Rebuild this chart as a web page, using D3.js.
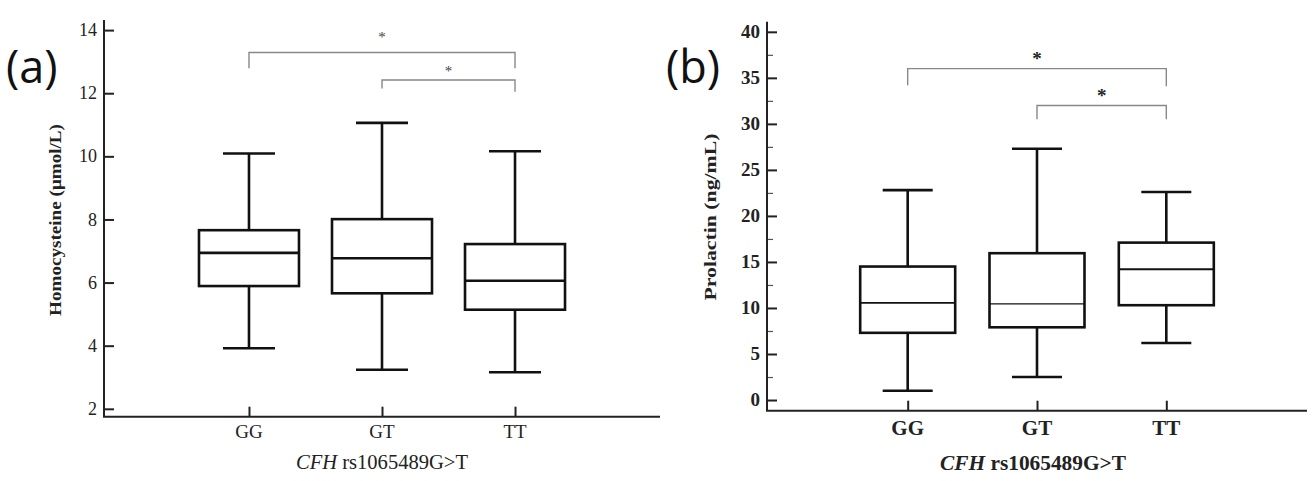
<!DOCTYPE html>
<html>
<head>
<meta charset="utf-8">
<script src="https://cdn.jsdelivr.net/npm/d3@7"></script>
<style>
  html, body { margin: 0; padding: 0; background: #fff; }
  svg { display: block; }
</style>
</head>
<body>
<svg id="chart" width="1314" height="481"></svg>
<script>
// ---------- data ----------
const categories = ["GG", "GT", "TT"];

// Panel (a): Homocysteine (μmol/L)
const hcyWhiskerLow  = [3.92, 3.24, 3.16];
const hcyQ1          = [5.89, 5.66, 5.14];
const hcyMedian      = [6.94, 6.77, 6.06];
const hcyQ3          = [7.66, 8.01, 7.22];
const hcyWhiskerHigh = [10.09, 11.06, 10.16];
const hcyTicks = [2, 4, 6, 8, 10, 12, 14];

// Panel (b): Prolactin (ng/mL)
const prlWhiskerLow  = [1.0, 2.5, 6.2];
const prlQ1          = [7.3, 7.9, 10.3];
const prlMedian      = [10.55, 10.45, 14.2];
const prlQ3          = [14.5, 15.95, 17.1];
const prlWhiskerHigh = [22.8, 27.3, 22.6];
const prlTicks = [0, 5, 10, 15, 20, 25, 30, 35, 40];
const prlMinorTicks = [2.5, 7.5, 12.5, 17.5, 22.5, 27.5, 32.5, 37.5];

// significance brackets: [from, to, level, legEndFrom, legEndTo, starLevel]
const hcyBrackets = [
  ["GG", "TT", 13.29, 12.79, 12.79, 13.85],
  ["GT", "TT", 12.42, 12.15, 12.05, 12.77]
];
const prlBrackets = [
  ["GG", "TT", 36.0, 34.2, 34.1, 37.4],
  ["GT", "TT", 32.0, 30.5, 30.5, 33.4]
];

const svg = d3.select("#chart");
const serif = "'Liberation Serif', 'Times New Roman', serif";

function drawPanel(cfg) {
  const g = svg.append("g");
  const x = d3.scalePoint().domain(categories).range([cfg.x0, cfg.x1]).padding(cfg.pad);
  const y = d3.scaleLinear().domain(cfg.yDomain).range([cfg.yBottom, cfg.yTop]);

  // y axis
  const yAxis = d3.axisRight(y).tickValues(cfg.ticks).tickSize(10).tickFormat("");
  const ya = g.append("g").attr("transform", `translate(${cfg.x0},0)`).call(yAxis);
  ya.select(".domain").remove();
  ya.selectAll(".tick line").attr("stroke", "#222").attr("stroke-width", 2);
  if (cfg.minor) {
    const ym = d3.axisRight(y).tickValues(cfg.minor).tickSize(6).tickFormat("");
    const ymg = g.append("g").attr("transform", `translate(${cfg.x0},0)`).call(ym);
    ymg.select(".domain").remove();
    ymg.selectAll(".tick line").attr("stroke", "#555").attr("stroke-width", 1.2);
  }
  g.append("line")
    .attr("x1", cfg.x0).attr("x2", cfg.x0)
    .attr("y1", cfg.yBottom).attr("y2", cfg.yTop)
    .attr("stroke", "#222").attr("stroke-width", 2);

  // tick labels
  g.selectAll(".ylab").data(cfg.ticks).enter().append("text")
    .attr("x", cfg.x0 - 7)
    .attr("y", d => y(d))
    .attr("dy", "0.34em")
    .attr("text-anchor", "end")
    .attr("font-family", serif)
    .attr("font-size", cfg.tickFs)
    .attr("font-weight", cfg.tickWeight)
    .attr("fill", "#222")
    .text(d => d);

  // x axis
  const xAxis = d3.axisTop(x).tickSize(10).tickFormat("");
  const xa = g.append("g").attr("transform", `translate(0,${cfg.yBottom})`).call(xAxis);
  xa.select(".domain").remove();
  xa.selectAll(".tick line").attr("stroke", "#222").attr("stroke-width", 2);
  g.append("line")
    .attr("x1", cfg.x0 - 1).attr("x2", cfg.x1)
    .attr("y1", cfg.yBottom).attr("y2", cfg.yBottom)
    .attr("stroke", "#222").attr("stroke-width", 2);

  g.selectAll(".xlab").data(categories).enter().append("text")
    .attr("x", d => x(d))
    .attr("y", cfg.catY)
    .attr("text-anchor", "middle")
    .attr("font-family", serif)
    .attr("font-size", cfg.catFs)
    .attr("font-weight", cfg.catWeight)
    .attr("fill", "#222")
    .text(d => d);

  // boxes
  const bw = cfg.boxW, cw = cfg.capW;
  categories.forEach((c, i) => {
    const cx = x(c);
    const line = (x1, y1, x2, y2, w) => g.append("line")
      .attr("x1", x1).attr("y1", y1).attr("x2", x2).attr("y2", y2)
      .attr("stroke", "#111").attr("stroke-width", w || 2.6);
    // whiskers
    line(cx, y(cfg.q3[i]), cx, y(cfg.hi[i]));
    line(cx, y(cfg.q1[i]), cx, y(cfg.lo[i]));
    line(cx - cw / 2, y(cfg.hi[i]), cx + cw / 2, y(cfg.hi[i]));
    line(cx - cw / 2, y(cfg.lo[i]), cx + cw / 2, y(cfg.lo[i]));
    // box
    g.append("rect")
      .attr("x", cx - bw / 2).attr("y", y(cfg.q3[i]))
      .attr("width", bw).attr("height", y(cfg.q1[i]) - y(cfg.q3[i]))
      .attr("fill", "#fff").attr("stroke", "#111").attr("stroke-width", 2.6);
    // median
    line(cx - bw / 2, y(cfg.med[i]), cx + bw / 2, y(cfg.med[i]), cfg.medW[i]);
  });

  // brackets
  cfg.brackets.forEach(b => {
    const xa1 = x(b[0]), xa2 = x(b[1]);
    g.append("path")
      .attr("d", `M${xa1},${y(b[3])}V${y(b[2])}H${xa2}V${y(b[4])}`)
      .attr("fill", "none").attr("stroke", "#888").attr("stroke-width", 1.4);
    g.append("text")
      .attr("x", (xa1 + xa2) / 2)
      .attr("y", y(b[5]) + cfg.starFs * 0.47)
      .attr("text-anchor", "middle")
      .attr("font-family", serif)
      .attr("font-size", cfg.starFs)
      .attr("font-weight", cfg.starWeight)
      .attr("fill", cfg.starColor)
      .text("*");
  });

  // y title
  g.append("text")
    .attr("transform", `translate(${cfg.yTitleX},${cfg.yTitleY}) rotate(-90)`)
    .attr("text-anchor", "middle")
    .attr("dy", "0.35em")
    .attr("font-family", serif)
    .attr("font-size", cfg.yTitleFs)
    .attr("font-weight", "bold")
    .attr("fill", "#222")
    .attr("textLength", cfg.yTitleLen)
    .attr("lengthAdjust", "spacingAndGlyphs")
    .text(cfg.yTitle);

  // x title
  const xt = g.append("text")
    .attr("x", cfg.xTitleX).attr("y", cfg.xTitleY)
    .attr("text-anchor", "middle")
    .attr("font-family", serif)
    .attr("font-size", cfg.xTitleFs)
    .attr("font-weight", cfg.xTitleWeight)
    .attr("fill", "#222")
    .attr("textLength", cfg.xTitleLen)
    .attr("lengthAdjust", "spacingAndGlyphs");
  xt.append("tspan").attr("font-style", "italic").text("CFH");
  xt.append("tspan").text(" rs1065489G>T");

  // panel letter
  g.append("text")
    .attr("x", cfg.letterX).attr("y", 83)
    .attr("font-family", "'Open Sans', 'Noto Sans', sans-serif")
    .attr("font-size", 45)
    .attr("fill", "#111")
    .text(cfg.letter);
}

drawPanel({
  letter: "(a)", letterX: 6,
  x0: 104, x1: 660, pad: 1.09,
  yDomain: [1.75, 14.32], yBottom: 416.7, yTop: 20,
  ticks: hcyTicks, minor: null,
  tickFs: 18, tickWeight: "normal",
  catY: 438, catFs: 19, catWeight: "normal",
  boxW: 100, capW: 52,
  lo: hcyWhiskerLow, q1: hcyQ1, med: hcyMedian, q3: hcyQ3, hi: hcyWhiskerHigh,
  medW: [2.6, 2.6, 2.6],
  brackets: hcyBrackets, starFs: 15, starWeight: "normal", starColor: "#444",
  yTitle: "Homocysteine (μmol/L)", yTitleX: 55, yTitleY: 220, yTitleFs: 17, yTitleLen: 192,
  xTitleX: 382, xTitleY: 469, xTitleFs: 20, xTitleWeight: "normal", xTitleLen: 172
});

drawPanel({
  letter: "(b)", letterX: 666,
  x0: 767, x1: 1307, pad: 1.088,
  yDomain: [-1.16, 41.1], yBottom: 410.7, yTop: 21.7,
  ticks: prlTicks, minor: prlMinorTicks,
  tickFs: 19, tickWeight: "bold",
  catY: 435, catFs: 21, catWeight: "bold",
  boxW: 95, capW: 50,
  lo: prlWhiskerLow, q1: prlQ1, med: prlMedian, q3: prlQ3, hi: prlWhiskerHigh,
  medW: [1.6, 1.3, 2.0],
  brackets: prlBrackets, starFs: 19, starWeight: "bold", starColor: "#222",
  yTitle: "Prolactin (ng/mL)", yTitleX: 710, yTitleY: 217, yTitleFs: 17, yTitleLen: 167,
  xTitleX: 1033, xTitleY: 470, xTitleFs: 20, xTitleWeight: "bold", xTitleLen: 186
});
</script>
</body>
</html>
